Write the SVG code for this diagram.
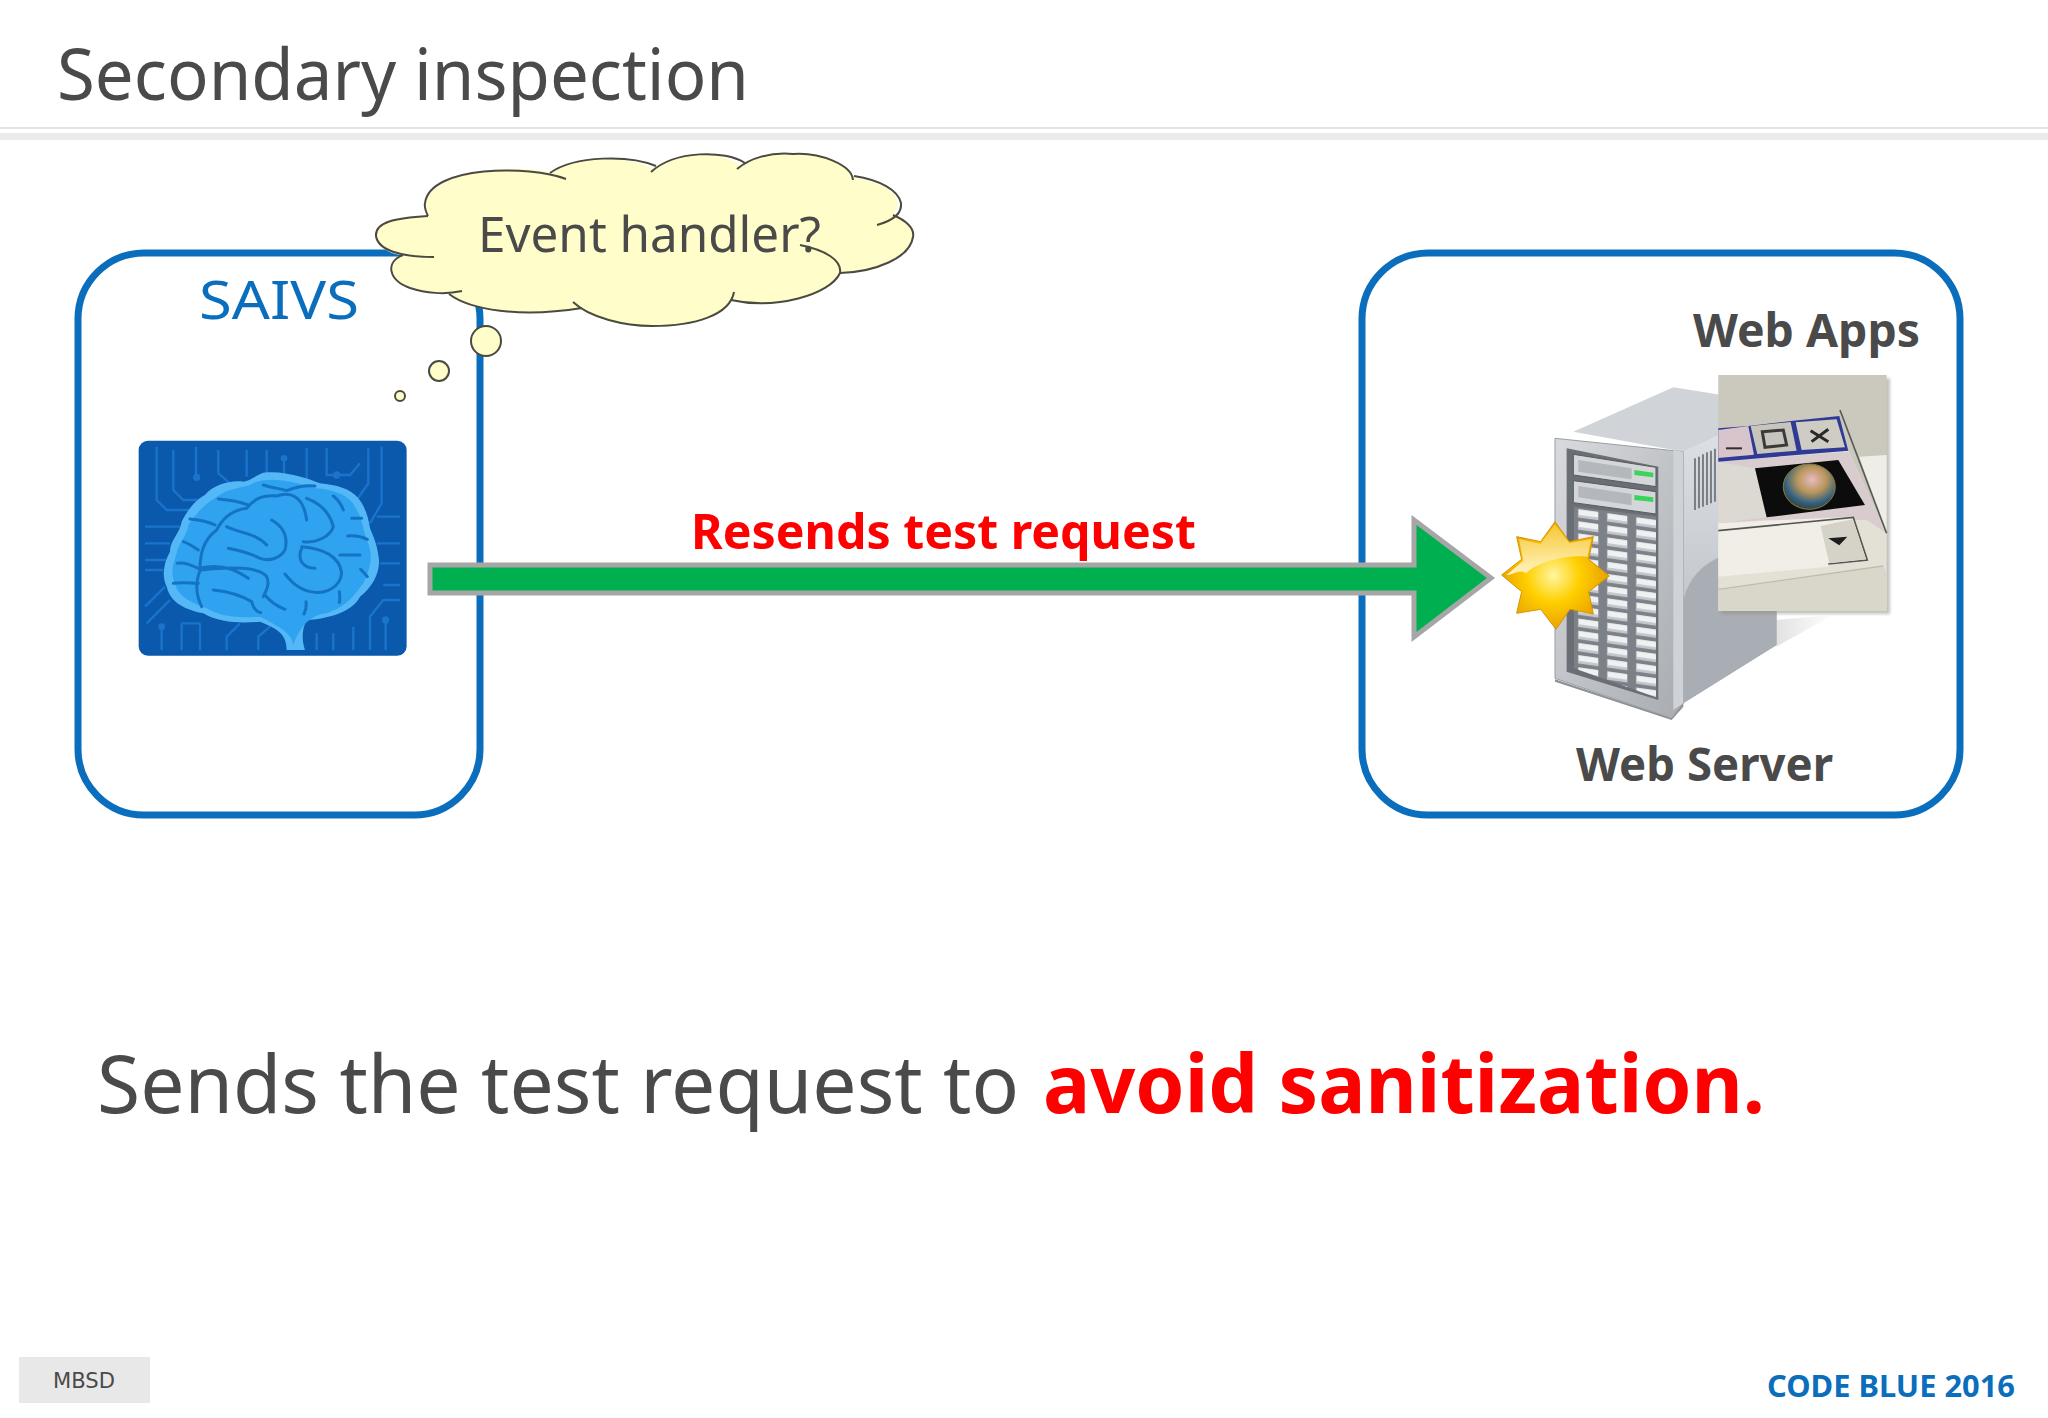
<svg xmlns="http://www.w3.org/2000/svg" width="2048" height="1418" viewBox="0 0 2048 1418">
<style>
text{font-family:"Noto Sans","Open Sans","Liberation Sans",sans-serif;fill:#4a4a4a}
.b{font-weight:700}
.red{fill:#ff0000}
.box{fill:none;stroke:#0a6ebd;stroke-width:7}
.cl{fill:none;stroke:#4a4a40;stroke-width:2}
.bub{fill:#fffdc9;stroke:#4a4a40;stroke-width:2}
.fold{fill:none;stroke:#1573c6;stroke-width:9;stroke-linecap:round}
.trace{fill:none;stroke:#1a74cb;stroke-width:7}
</style>
<defs>
<radialGradient id="star" cx="0.48" cy="0.5" r="0.55"><stop offset="0" stop-color="#fff6a0"/><stop offset="0.45" stop-color="#ffcf00"/><stop offset="1" stop-color="#e59a00"/></radialGradient>
<linearGradient id="starTop" x1="0" y1="0" x2="0" y2="1"><stop offset="0" stop-color="#f7c93a"/><stop offset="1" stop-color="#fff8d8"/></linearGradient>
<linearGradient id="side" x1="0" y1="0" x2="0" y2="1"><stop offset="0" stop-color="#dcdfe3"/><stop offset="1" stop-color="#b5b9bf"/></linearGradient>
<linearGradient id="front" x1="0" y1="0" x2="1" y2="1"><stop offset="0" stop-color="#d8dadd"/><stop offset="1" stop-color="#a8abb0"/></linearGradient>
<linearGradient id="floor" x1="0" y1="0" x2="1" y2="0"><stop offset="0" stop-color="#e2e2e2"/><stop offset="1" stop-color="#ffffff"/></linearGradient>
<radialGradient id="globe" cx="0.55" cy="0.35" r="0.7"><stop offset="0" stop-color="#e8b9c0"/><stop offset="0.4" stop-color="#b9965a"/><stop offset="0.75" stop-color="#2f5f80"/><stop offset="1" stop-color="#3d3a20"/></radialGradient>
<pattern id="slots" width="87" height="36.5" patternUnits="userSpaceOnUse" patternTransform="translate(525,440) skewY(8)">
<rect width="87" height="36.5" fill="#7c8188"/>
<rect x="10" y="6" width="60" height="25" fill="#f0f1f3"/>
<rect x="10" y="23" width="60" height="8" fill="#c2c5c9"/>
</pattern>
<filter id="blur" x="-20%" y="-20%" width="140%" height="140%"><feGaussianBlur stdDeviation="5"/></filter>
</defs>

<g id="header">
<rect x="0" y="127" width="2048" height="2" fill="#e4e4e4"/>
<rect x="0" y="133" width="2048" height="7" fill="#ebebeb"/>
<text x="57" y="100" font-size="72" textLength="692" lengthAdjust="spacingAndGlyphs">Secondary inspection</text>
</g>

<g id="saivs">
<rect class="box" x="78" y="253" width="402" height="562" rx="66"/>
<text x="199" y="319" font-size="52" style="fill:#0a6ebd" textLength="160" lengthAdjust="spacingAndGlyphs">SAIVS</text>
<g transform="translate(120,420) scale(0.3333)">
<rect x="56" y="62" width="804" height="645" rx="28" fill="#0b59ad"/>
<path class="trace" d="M110 80V240L140 270H220M160 90V210L190 240H260M228 80V175M295 90V160L330 190H400M380 90V170M440 90V160M492 110V200M560 85V180M620 85V165H690L720 130M745 85V190L710 240M785 80V250L750 310M75 320H190M75 370H150M75 420H140M75 450H130M770 290H840M770 370H840M780 430H840M790 495H840M75 560L135 500M80 610L150 540M125 620V690M185 610V690M240 610V690M185 610H240M320 690V650L360 610M415 690V650L450 620M590 690V640M640 690V640M700 690V620M750 690V590L790 540H840M797 600V690"/>
<circle cx="230" cy="172" r="11" fill="#1a74cb"/><circle cx="492" cy="115" r="10" fill="#1a74cb"/><circle cx="650" cy="165" r="11" fill="#1a74cb"/><circle cx="797" cy="600" r="11" fill="#1a74cb"/><circle cx="125" cy="620" r="10" fill="#1a74cb"/>
<path d="M500 690L555 690C545 660 545 630 560 600C640 595 700 570 720 530C760 500 785 450 775 405C770 370 760 350 750 325C745 290 735 260 715 235C690 205 650 195 600 190C565 175 490 150 430 158C400 170 395 180 370 185C330 180 280 195 255 225C225 240 200 275 185 305C180 340 150 360 150 395C130 430 125 470 140 500C150 540 180 565 250 580C300 610 370 610 420 605C470 625 500 640 500 690Z" fill="#55b8f6"/>
<path d="M520 675C515 640 480 620 420 590C360 595 300 590 260 565C200 545 170 520 165 490C150 460 160 430 170 400C175 370 200 350 205 315C230 280 250 255 285 235C320 205 360 205 390 195C430 170 490 175 590 205C650 210 690 230 705 260C725 290 730 330 740 360C760 400 755 440 730 490C700 530 680 560 620 580C570 585 540 620 520 675Z" fill="#2fa2f0"/>
<path class="fold" d="M160 490C190 485 210 490 235 490M172 430C190 425 215 435 235 445M190 365C205 370 220 380 235 390M210 297C240 300 265 305 285 315M295 237C330 240 360 245 385 255M430 195C460 205 480 205 500 212C530 200 560 195 585 198M640 228C655 240 665 255 670 270M695 295H725M683 348C705 345 725 350 742 358M660 405H720M722 448C730 455 735 462 742 470M245 560C230 530 225 490 240 450C240 400 250 360 290 330C310 290 340 270 380 265C400 240 420 225 470 228C510 215 550 225 560 300M560 235C600 250 630 280 640 320C630 350 590 370 550 365M455 300C490 320 505 350 495 390C480 415 450 425 420 415C390 400 350 390 325 385M320 320C360 340 410 340 440 375M545 385C530 420 550 445 585 445M545 380C610 385 660 410 665 460C660 500 620 525 570 515C530 505 510 480 495 462M385 475C350 450 300 430 240 445M245 450C330 440 420 440 440 470C450 490 440 510 430 530M280 510C330 515 370 530 395 545C400 565 410 575 422 578M435 525C450 545 475 560 495 568M558 545C560 560 558 570 552 582M658 515C660 530 660 540 658 548"/>
</g>
</g>

<g id="thought-bubble">
<circle class="bub" cx="486" cy="341" r="15"/>
<circle class="bub" cx="439" cy="371" r="10"/>
<circle class="bub" cx="400" cy="396" r="5"/>
<path fill="#fffdc9" d="M428 216C395 218 375 222 376 236C378 250 395 255 403 255C385 262 388 280 410 288C425 293 440 293 449 294C470 310 520 318 582 308C600 322 630 326 652 326C695 326 725 315 731 300C775 310 830 295 840 273C875 272 910 258 913 237C915 228 905 220 893 215C905 200 895 185 854 178C845 160 810 152 793 154C770 152 750 158 741 166C725 152 680 150 654 169C630 155 575 155 552 173C530 165 440 165 425 203Z"/>
<path class="cl" d="M428 216C395 218 375 222 376 236C378 250 400 257 434 257"/>
<path class="cl" d="M403 255C385 262 388 280 410 288C425 293 445 295 462 291"/>
<path class="cl" d="M449 294C470 310 520 318 582 308"/>
<path class="cl" d="M573 302C590 318 625 326 652 326C695 326 730 315 734 292"/>
<path class="cl" d="M731 300C775 310 830 295 840 273C842 260 825 250 800 245"/>
<path class="cl" d="M840 273C875 272 910 258 913 237C915 228 905 220 893 215"/>
<path class="cl" d="M877 225C895 220 902 212 901 203C898 190 880 180 854 176"/>
<path class="cl" d="M853 180C852 165 820 152 793 154C770 152 750 158 737 169"/>
<path class="cl" d="M745 163C725 150 675 150 651 172"/>
<path class="cl" d="M656 166C630 155 575 155 550 173"/>
<path class="cl" d="M566 179C530 165 430 165 425 203C424 208 426 212 428 216"/>
<text x="478" y="252" font-size="49" textLength="343" lengthAdjust="spacingAndGlyphs">Event handler?</text>
</g>

<g id="web-server">
<rect class="box" x="1362" y="253" width="598" height="562" rx="66"/>
<g transform="translate(1400,360) scale(0.3333)">
<polygon points="1130,780 1300,765 1130,860" fill="url(#floor)"/>
<polygon points="520,215 820,82 965,105 965,225 850,275" fill="#d0d3d8"/>
<polygon points="850,275 965,220 1130,700 1130,855 850,1030" fill="url(#side)"/>
<path d="M850 720C870 640 920 610 960 590L1130 590V855L850 1030Z" fill="#a9adb4"/>
<path d="M885 295V450M897 290V445M909 283V440M921 277V435M933 272V430M945 266V425" stroke="#7a7f85" stroke-width="6"/>
<polygon points="465,235 850,275 850,1030 815,1075 465,955" fill="url(#front)" stroke="#9a9ea4" stroke-width="3"/>
<polygon points="820,270 850,275 850,1030 820,1050" fill="#cfd2d6"/>
<polygon points="500,265 775,320 775,1020 500,935" fill="#6a6f76"/>
<polygon points="520,283 768,322 768,380 520,345" fill="#d4d6d9" stroke="#565a60" stroke-width="3"/>
<polygon points="535,300 695,325 695,358 535,335" fill="#b4b7bb"/>
<polygon points="703,330 760,338 760,352 703,345" fill="#39d45a"/>
<polygon points="520,362 768,395 768,462 520,428" fill="#d4d6d9" stroke="#565a60" stroke-width="3"/>
<polygon points="535,378 695,402 695,436 535,412" fill="#b4b7bb"/>
<polygon points="703,405 760,412 760,426 703,420" fill="#39d45a"/>
<polygon points="522,440 768,470 768,1012 522,925" fill="url(#slots)"/>
<polygon points="465,958 815,1075 850,1030 850,1040 815,1080 465,965" fill="#8d9096"/>
<rect x="965" y="55" width="505" height="707" fill="#8f8f88" filter="url(#blur)" opacity="0.55"/>
<rect x="955" y="45" width="505" height="707" fill="#cbc9bd"/>
<polygon points="1378,290 1460,285 1460,520" fill="#efeee6"/>
<polygon points="955,300 1345,272 1460,520 1460,752 955,752" fill="#e3e0d6"/>
<polygon points="955,305 1345,275 1460,520 1400,480 1100,480 955,490" fill="#d8ccce"/>
<polygon points="955,305 1065,325 1100,472 955,490" fill="#dcd8d2"/>
<polygon points="955,205 1045,198 1180,182 1318,168 1345,272 955,305" fill="#2f3a96"/>
<path d="M1320 150L1460 520" stroke="#5a5a55" stroke-width="5"/>
<polygon points="955,210 1045,198 1062,284 955,294" fill="#d8c5cb"/>
<rect x="978" y="262" width="48" height="6" fill="#303030"/>
<polygon points="1052,198 1172,186 1190,272 1072,282" fill="#c8c6bc"/>
<polygon points="1087,215 1150,210 1160,255 1095,262" fill="none" stroke="#3a3a3a" stroke-width="9"/>
<polygon points="1187,187 1310,178 1335,262 1205,270" fill="#cfcdc3"/>
<path d="M1232 212L1285 245M1285 208L1235 245" stroke="#2a2a2a" stroke-width="9"/>
<polygon points="1065,325 1315,300 1395,435 1100,472" fill="#0c0c0c"/>
<ellipse cx="1228" cy="380" rx="78" ry="68" fill="url(#globe)" stroke="#8a7d3a" stroke-width="3"/>
<polygon points="955,490 1360,470 1400,600 1285,615 1285,620 955,650 955,615" fill="#f1eee8"/>
<path d="M955 512L1360 472L1402 600L1285 612" fill="none" stroke="#55554f" stroke-width="5"/>
<polygon points="1262,498 1358,478 1398,598 1288,610" fill="#d5d2c8"/>
<polygon points="1285,535 1342,530 1318,556" fill="#1c1c1c"/>
<polygon points="955,690 1450,620 1460,640 1460,752 955,752" fill="#d9d7ca"/>
<path d="M955 688L1450 618" stroke="#bdbcaf" stroke-width="4"/>
<polygon points="465,485 508,545 580,530 566,598 628,648 566,695 580,762 510,748 468,808 422,748 350,760 365,695 305,645 365,598 350,530 422,545" fill="url(#star)" stroke="#d49500" stroke-width="3"/>
<path d="M465 493L508 550L574 537L562 590C510 585 420 600 378 640C360 625 335 648 320 645L370 602L357 537L422 552Z" fill="url(#starTop)" opacity="0.9"/>
</g>
<text class="b" x="1693" y="347" font-size="46" textLength="227" lengthAdjust="spacingAndGlyphs">Web Apps</text>
<text class="b" x="1576" y="781" font-size="46" textLength="257" lengthAdjust="spacingAndGlyphs">Web Server</text>
</g>

<g id="connectors">
<polygon points="430,565 1414,565 1414,520 1491,578 1414,637 1414,593 430,593" fill="#00b050" stroke="#a6a6a6" stroke-width="5"/>
<text class="b red" x="691" y="549" font-size="48" textLength="505" lengthAdjust="spacingAndGlyphs">Resends test request</text>
</g>

<g id="caption">
<text x="97" y="1113" font-size="80" textLength="922" lengthAdjust="spacingAndGlyphs">Sends the test request to</text>
<text class="b red" x="1043" y="1113" font-size="80" textLength="722" lengthAdjust="spacingAndGlyphs">avoid sanitization.</text>
</g>

<g id="footer">
<rect x="19" y="1357" width="131" height="46" fill="#e8e8e8"/>
<text x="53" y="1388" font-size="21" textLength="62" lengthAdjust="spacingAndGlyphs" style="font-family:'DejaVu Sans',sans-serif">MBSD</text>
<text class="b" x="1767" y="1397" font-size="30" textLength="248" lengthAdjust="spacingAndGlyphs" style="fill:#0a6ebd">CODE BLUE 2016</text>
</g>
</svg>
